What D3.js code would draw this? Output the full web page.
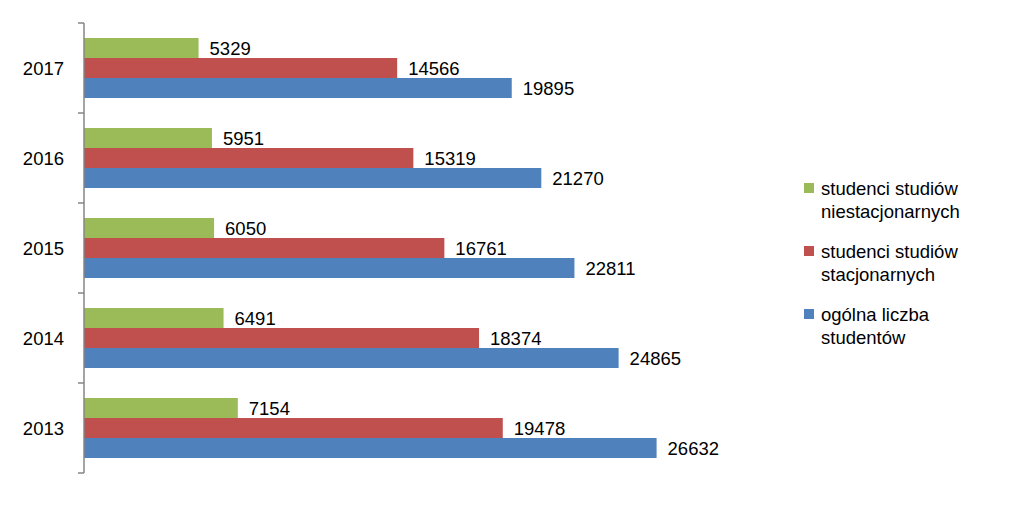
<!DOCTYPE html>
<html>
<head>
<meta charset="utf-8">
<script src="https://cdn.jsdelivr.net/npm/d3@7"></script>
<style>
  html, body { margin: 0; padding: 0; background: #fff; }
  svg { display: block; }
  text { font-family: "Liberation Sans", Arial, sans-serif; fill: #000; }
</style>
</head>
<body>
<svg id="chart" width="1009" height="526"></svg>
<script>
const years = ["2013", "2014", "2015", "2016", "2017"];
const seriesNames = ["studenci studiów niestacjonarnych", "studenci studiów stacjonarnych", "ogólna liczba studentów"];
const legendLines = [["studenci studiów", "niestacjonarnych"], ["studenci studiów", "stacjonarnych"], ["ogólna liczba", "studentów"]];
const niestacjonarni = [7154, 6491, 6050, 5951, 5329];
const stacjonarni = [19478, 18374, 16761, 15319, 14566];
const ogolem = [26632, 24865, 22811, 21270, 19895];
const colors = ["#9BBB59", "#C0504D", "#4F81BD"];

const series = [niestacjonarni, stacjonarni, ogolem];

const svg = d3.select("#chart");
const plotLeft = 84, plotTop = 23, plotH = 450;
const fs = 18.5;

const x = d3.scaleLinear().domain([0, 30000]).range([plotLeft, plotLeft + 645]);
const y = d3.scaleBand().domain(years.slice().reverse()).range([plotTop, plotTop + plotH])
  .paddingInner(1/3).paddingOuter(1/6);
const ySub = d3.scaleBand().domain(d3.range(series.length)).range([0, y.bandwidth()]);

const groups = svg.append("g").selectAll("g").data(years).join("g")
  .attr("transform", d => `translate(0,${y(d)})`);

series.forEach((vals, si) => {
  groups.append("rect")
    .attr("x", x(0))
    .attr("y", ySub(si))
    .attr("width", (d, i) => x(vals[i]) - x(0))
    .attr("height", ySub.bandwidth())
    .attr("fill", colors[si]);
  groups.append("text")
    .attr("x", (d, i) => x(vals[i]) + 11)
    .attr("y", ySub(si) + ySub.bandwidth() / 2)
    .attr("dominant-baseline", "central")
    .attr("font-size", fs)
    .text((d, i) => vals[i]);
});

// Y axis with category boundary ticks
const axisG = svg.append("g");
axisG.append("line")
  .attr("x1", plotLeft).attr("x2", plotLeft)
  .attr("y1", plotTop).attr("y2", plotTop + plotH)
  .attr("stroke", "#868686").attr("stroke-width", 1.5);
const boundaries = d3.range(years.length + 1).map(i => plotTop + i * y.step());
axisG.selectAll("line.tick").data(boundaries).join("line")
  .attr("class", "tick")
  .attr("x1", plotLeft - 6).attr("x2", plotLeft)
  .attr("y1", d => d).attr("y2", d => d)
  .attr("stroke", "#868686").attr("stroke-width", 1.5);
axisG.selectAll("text").data(years).join("text")
  .attr("x", plotLeft - 20)
  .attr("y", d => y(d) + y.bandwidth() / 2)
  .attr("text-anchor", "end")
  .attr("dominant-baseline", "central")
  .attr("font-size", fs)
  .text(d => d);

// Legend
const legend = svg.append("g");
legendLines.forEach((lines, i) => {
  const cy = 188 + i * 63;
  legend.append("rect")
    .attr("x", 804).attr("y", cy - 5)
    .attr("width", 10).attr("height", 10)
    .attr("fill", colors[i]);
  lines.forEach((ln, j) => {
    legend.append("text")
      .attr("x", 821).attr("y", cy + j * 23)
      .attr("dominant-baseline", "central")
      .attr("font-size", fs)
      .text(ln);
  });
});
</script>
</body>
</html>
